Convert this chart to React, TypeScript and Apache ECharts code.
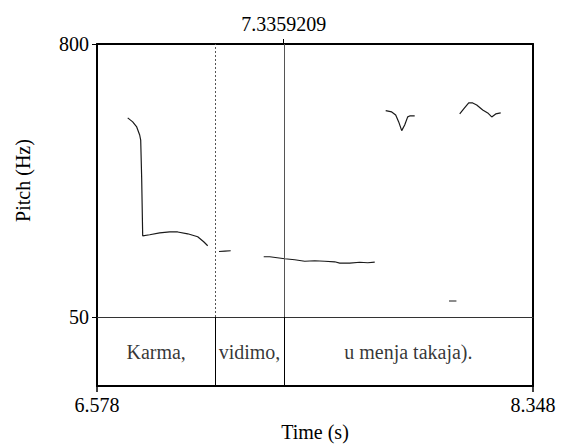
import React, { useEffect, useRef } from "react";
import * as echarts from "echarts";

const T_MIN = 6.578;
const T_MAX = 8.348;
const F_MIN = 50;
const F_MAX = 800;
const CURSOR_TIME = 7.3359209;

// Pitch contour segments: [time (s), pitch (Hz)]
const seg1: [number, number][] = [
  [6.7026, 597], [6.7229, 586], [6.7392, 572], [6.7513, 550], [6.7554, 536],
  [6.7594, 430], [6.7635, 273], [6.7919, 276], [6.8325, 281], [6.8731, 283.6],
  [6.9056, 283.6], [6.9462, 278.6], [6.9868, 270.4], [7.0111, 256.6], [7.0274, 245.7],
];
const seg2: [number, number][] = [
  [7.0733, 230], [7.0970, 231], [7.1208, 232],
];
const seg3: [number, number][] = [
  [7.2548, 215.5], [7.2792, 215.5], [7.3401, 210], [7.3807, 207.3], [7.4213, 203.1],
  [7.4619, 204.5], [7.5025, 203.1], [7.5431, 201.7], [7.5634, 198.2], [7.6040, 198.2],
  [7.6446, 200.4], [7.6771, 199], [7.7055, 200.9],
];
const seg4: [number, number][] = [
  [7.7500, 617], [7.7744, 613.4], [7.7906, 605], [7.8028, 586], [7.8150, 562],
  [7.8271, 577.7], [7.8393, 599.7], [7.8474, 602.4], [7.8677, 602.4],
];
const seg5: [number, number][] = [
  [8.0505, 607.9], [8.0667, 621.6], [8.0870, 638], [8.1033, 638], [8.1195, 632.6],
  [8.1439, 618.9], [8.1642, 610.6], [8.1804, 599.7], [8.1966, 607.9], [8.2169, 610.6],
];
const seg6: [number, number][] = [
  [8.0071, 93.9], [8.0371, 93.9],
];
const segments = [seg1, seg2, seg3, seg4, seg5, seg6];

// TextGrid tier
const boundaries = [7.0583, CURSOR_TIME];
const intervalLabels = ["Karma,", "vidimo,", "u menja takaja)."];

const yTickValues = [F_MIN, F_MAX];
const xTickValues = [T_MIN, T_MAX];

const F = "Liberation Serif";

export default function App() {
  const ref = useRef<HTMLDivElement>(null);
  useEffect(() => {
    document.body.style.margin = "0";
    if (!ref.current) return;
    const chart = echarts.init(ref.current, null, { renderer: "svg" });
    const edges = [T_MIN, ...boundaries, T_MAX];
    const tierData = intervalLabels.map((lab, i) => [
      (edges[i] + edges[i + 1]) / 2,
      0.5,
      lab,
    ]);
    const lineSeries = segments.map((seg, i) => ({
      type: "line",
      xAxisIndex: 0,
      yAxisIndex: 0,
      data: seg,
      showSymbol: false,
      symbol: "none",
      lineStyle: { color: "#1a1a1a", width: 1.2 },
      silent: true,
      ...(i === 0
        ? {
            markLine: {
              silent: true,
              symbol: "none",
              label: { show: false },
              data: [
                { xAxis: boundaries[0], lineStyle: { type: [2, 2], color: "#555", width: 1 } },
                { xAxis: CURSOR_TIME, lineStyle: { type: "solid", color: "#555", width: 1 } },
              ],
            },
          }
        : {}),
    }));
    chart.setOption({
      animation: false,
      textStyle: { fontFamily: F },
      grid: [
        { left: 97, top: 44, width: 436, height: 273, show: false },
        { left: 97, top: 317, width: 436, height: 69, show: false },
      ],
      xAxis: [
        {
          type: "value",
          gridIndex: 0,
          position: "top",
          min: T_MIN,
          max: T_MAX,
          splitLine: { show: false },
          axisLine: { show: true, lineStyle: { color: "#000", width: 2 } },
          axisTick: { show: true, customValues: [CURSOR_TIME], length: 5, lineStyle: { color: "#000", width: 1 } },
          axisLabel: { customValues: [CURSOR_TIME], margin: 10, fontFamily: F, fontSize: 20, color: "#000" },
        },
        {
          type: "value",
          gridIndex: 1,
          position: "bottom",
          min: T_MIN,
          max: T_MAX,
          splitLine: { show: false },
          axisLine: { show: true, lineStyle: { color: "#000", width: 2 } },
          axisTick: { show: true, customValues: xTickValues, length: 6, lineStyle: { color: "#000", width: 1.5 } },
          axisLabel: { customValues: xTickValues, margin: 9, fontFamily: F, fontSize: 20, color: "#000" },
          name: "Time (s)",
          nameLocation: "middle",
          nameGap: 36,
          nameTextStyle: { fontFamily: F, fontSize: 20, color: "#000" },
        },
        {
          type: "value",
          gridIndex: 0,
          position: "bottom",
          min: T_MIN,
          max: T_MAX,
          splitLine: { show: false },
          axisLine: { show: true, lineStyle: { color: "#333", width: 1 } },
          axisTick: { show: false },
          axisLabel: { show: false },
        },
      ],
      yAxis: [
        {
          type: "value",
          gridIndex: 0,
          position: "left",
          min: F_MIN,
          max: F_MAX,
          splitLine: { show: false },
          axisLine: { show: true, lineStyle: { color: "#000", width: 2 } },
          axisTick: { show: true, customValues: yTickValues, length: 5, lineStyle: { color: "#000", width: 1 } },
          axisLabel: { customValues: yTickValues, margin: 8, fontFamily: F, fontSize: 20, color: "#000" },
          name: "Pitch (Hz)",
          nameLocation: "middle",
          nameRotate: 90,
          nameGap: 64,
          nameTextStyle: { fontFamily: F, fontSize: 20, color: "#000" },
        },
        {
          type: "value",
          gridIndex: 0,
          position: "right",
          min: F_MIN,
          max: F_MAX,
          splitLine: { show: false },
          axisLine: { show: true, lineStyle: { color: "#000", width: 2 } },
          axisTick: { show: false },
          axisLabel: { show: false },
        },
        {
          type: "value",
          gridIndex: 1,
          position: "left",
          min: 0,
          max: 1,
          splitLine: { show: false },
          axisLine: { show: true, lineStyle: { color: "#000", width: 2 } },
          axisTick: { show: false },
          axisLabel: { show: false },
        },
        {
          type: "value",
          gridIndex: 1,
          position: "right",
          min: 0,
          max: 1,
          splitLine: { show: false },
          axisLine: { show: true, lineStyle: { color: "#000", width: 2 } },
          axisTick: { show: false },
          axisLabel: { show: false },
        },
      ],
      series: [
        ...lineSeries,
        {
          type: "scatter",
          xAxisIndex: 1,
          yAxisIndex: 2,
          data: tierData,
          symbolSize: 0,
          silent: true,
          label: {
            show: true,
            position: "inside",
            formatter: (p: any) => p.value[2],
            fontFamily: F,
            fontSize: 20,
            color: "#000",
          },
          markLine: {
            silent: true,
            symbol: "none",
            label: { show: false },
            lineStyle: { type: "solid", color: "#000", width: 1 },
            data: boundaries.map((b) => ({ xAxis: b })),
          },
        },
      ],
    });
    return () => chart.dispose();
  }, []);
  return <div ref={ref} style={{ width: 561, height: 445 }} />;
}
